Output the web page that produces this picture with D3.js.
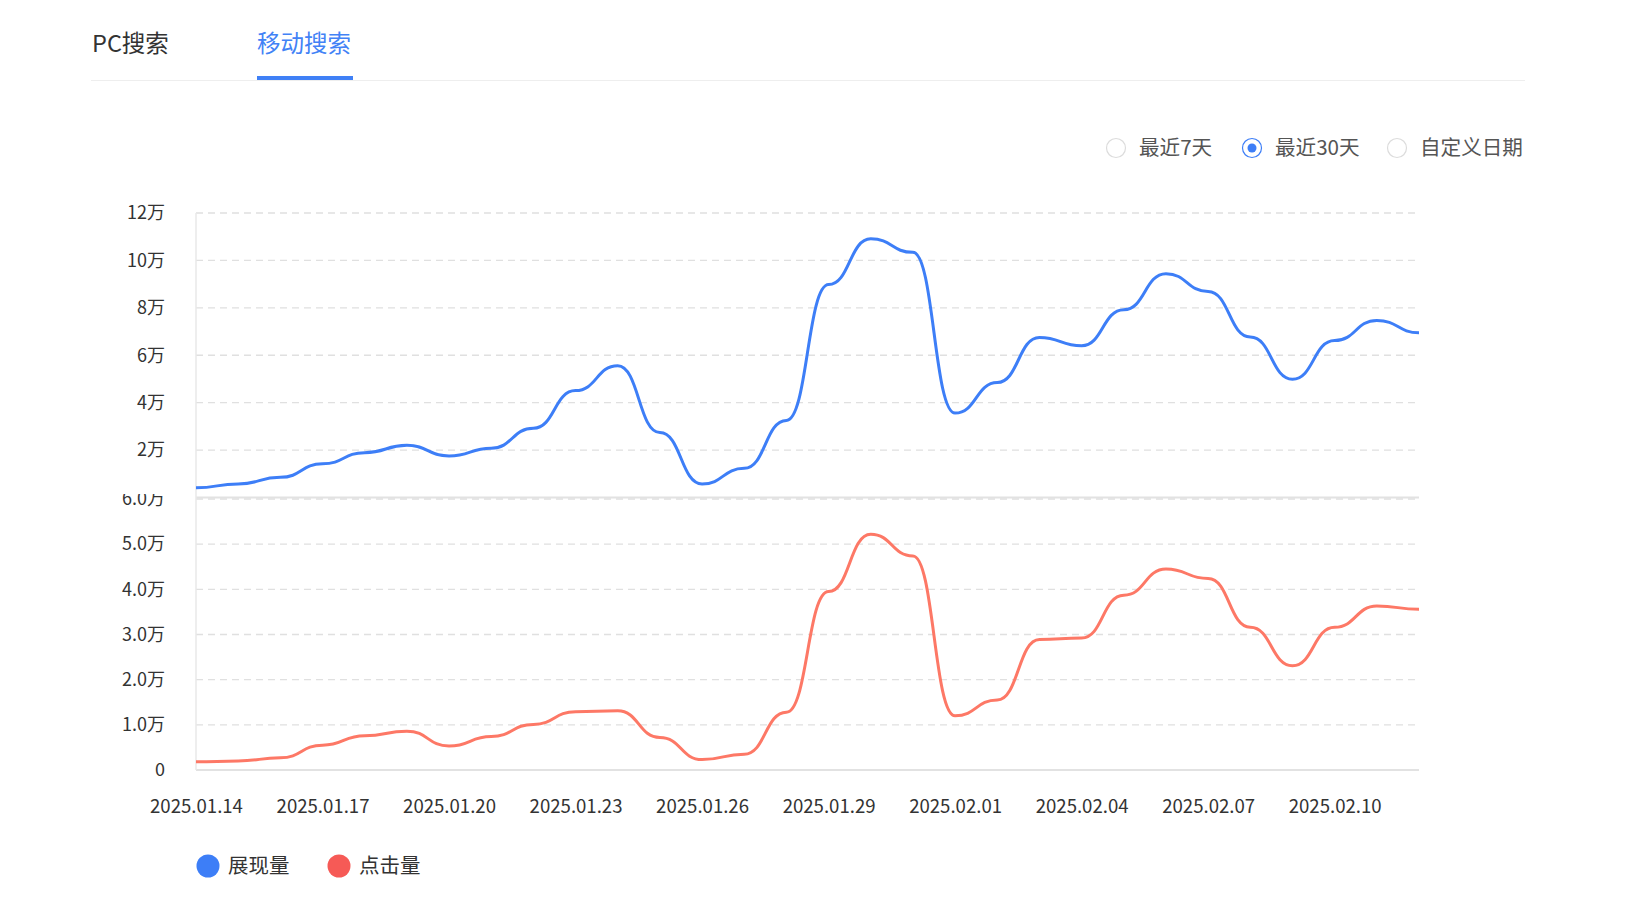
<!DOCTYPE html>
<html>
<head>
<meta charset="utf-8">
<script src="https://cdn.jsdelivr.net/npm/d3@7/dist/d3.min.js"></script>
<style>
  body { margin: 0; background: #fff; }
  svg { display: block; font-family: "Noto Sans CJK SC", "Noto Sans", sans-serif; }
</style>
</head>
<body>
<script>
// data
var dates = ['2025.01.14', '2025.01.15', '2025.01.16', '2025.01.17', '2025.01.18', '2025.01.19',
    '2025.01.20', '2025.01.21', '2025.01.22', '2025.01.23', '2025.01.24', '2025.01.25',
    '2025.01.26', '2025.01.27', '2025.01.28', '2025.01.29', '2025.01.30', '2025.01.31',
    '2025.02.01', '2025.02.02', '2025.02.03', '2025.02.04', '2025.02.05', '2025.02.06',
    '2025.02.07', '2025.02.08', '2025.02.09', '2025.02.10', '2025.02.11', '2025.02.12'];
var impressions = [4100, 5700, 8500, 14200, 18900, 22000, 17500, 20800, 29200, 45100,
    55600, 27400, 5700, 12300, 32500, 89800, 109100, 103400, 35600, 48500,
    67500, 64000, 79200, 94400, 86900, 67700, 49900, 66200, 74700, 69500];
var clicks = [1800, 2000, 2700, 5500, 7600, 8600, 5300, 7400, 10100, 12900,
    13100, 7200, 2300, 3500, 12800, 39500, 52200, 47400, 12000, 15500,
    28900, 29200, 38700, 44500, 42400, 31600, 23100, 31600, 36300, 35600];
var topTicks = [0, 20000, 40000, 60000, 80000, 100000, 120000];
var bottomTicks = [0, 10000, 20000, 30000, 40000, 50000, 60000];
var tabs = ['PC搜索', '移动搜索'];
var ranges = ['最近7天', '最近30天', '自定义日期'];
var seriesNames = ['展现量', '点击量'];

window.onload = function() {
    var w = 1638, h = 912;
    var blue = '#3d7ef7', red = '#fd7866';
    var left = 196, right = 1419;

    var svg = d3.select('body').append('svg')
        .attr('width', w)
        .attr('height', h);

    // tabs
    svg.append('line')
        .attr('x1', 91).attr('x2', 1525)
        .attr('y1', 80.5).attr('y2', 80.5)
        .style('stroke', '#eeeeee')
        .style('stroke-width', 1);
    var tabX = [92, 257];
    svg.selectAll('.tab')
        .data(tabs)
        .enter()
        .append('text')
        .attr('class', 'tab')
        .attr('x', function(d, i) { return tabX[i]; })
        .attr('y', 52)
        .style('font-size', '23.5px')
        .style('fill', function(d, i) { return i == 1 ? '#4282f6' : '#333'; })
        .text(function(d) { return d; });
    svg.append('rect')
        .attr('x', 257).attr('y', 76)
        .attr('width', 96).attr('height', 4)
        .style('fill', '#3f80f6');

    // radio buttons
    var radioX = [1116, 1252, 1397];
    var radios = svg.selectAll('.radio')
        .data(ranges)
        .enter()
        .append('g')
        .attr('class', 'radio')
        .attr('transform', function(d, i) { return 'translate(' + radioX[i] + ',148)'; });
    radios.append('circle')
        .attr('r', 9.5)
        .style('fill', '#fff')
        .style('stroke', function(d, i) { return i == 1 ? blue : '#dcdcdc'; })
        .style('stroke-width', 1.2);
    radios.filter(function(d, i) { return i == 1; })
        .append('circle')
        .attr('r', 4.5)
        .style('fill', blue);
    radios.append('text')
        .attr('x', 23)
        .attr('dy', '0.35em')
        .style('font-size', '20.6px')
        .style('fill', '#555')
        .text(function(d) { return d; });

    // scales
    var x = d3.scaleLinear()
        .domain([0, dates.length - 1])
        .range([left, right]);
    var yTop = d3.scaleLinear()
        .domain([0, 120000])
        .range([497.5, 213]);
    var yBottom = d3.scaleLinear()
        .domain([0, 60000])
        .range([770, 499]);

    // grid lines
    svg.append('g')
        .selectAll('line')
        .data(topTicks.slice(1))
        .enter()
        .append('line')
        .attr('x1', left).attr('x2', right)
        .attr('y1', function(d) { return yTop(d); })
        .attr('y2', function(d) { return yTop(d); })
        .style('stroke', '#e0e0e0')
        .style('stroke-width', 1.3)
        .style('stroke-dasharray', '7,5');
    svg.append('g')
        .selectAll('line')
        .data(bottomTicks.slice(1))
        .enter()
        .append('line')
        .attr('x1', left).attr('x2', right)
        .attr('y1', function(d) { return yBottom(d); })
        .attr('y2', function(d) { return yBottom(d); })
        .style('stroke', '#e0e0e0')
        .style('stroke-width', 1.3)
        .style('stroke-dasharray', '7,5');

    // axis lines
    [yTop(0), yBottom(0)].forEach(function(yy) {
        svg.append('line')
            .attr('x1', left).attr('x2', right)
            .attr('y1', yy).attr('y2', yy)
            .style('stroke', '#e2e2e2')
            .style('stroke-width', 2);
    });
    svg.append('line')
        .attr('x1', left).attr('x2', left)
        .attr('y1', 213).attr('y2', 770)
        .style('stroke', '#e8e8e8')
        .style('stroke-width', 1.5);

    // y axes
    var topAxis = d3.axisLeft(yTop)
        .tickValues(topTicks.slice(1))
        .tickSize(0)
        .tickPadding(31)
        .tickFormat(function(d) { return d / 10000 + '万'; });
    var gTop = svg.append('g')
        .attr('transform', 'translate(' + left + ',0)')
        .call(topAxis);

    // the 6.0万 label is cut off by the upper panel
    svg.append('clipPath')
        .attr('id', 'lowClip')
        .append('rect')
        .attr('x', 0).attr('y', 494)
        .attr('width', 400).attr('height', 400);
    var bottomAxis = d3.axisLeft(yBottom)
        .tickValues(bottomTicks)
        .tickSize(0)
        .tickPadding(31)
        .tickFormat(function(d) { return d == 0 ? '0' : (d / 10000).toFixed(1) + '万'; });
    var gBottom = svg.append('g')
        .attr('clip-path', 'url(#lowClip)')
        .append('g')
        .attr('transform', 'translate(' + left + ',0)')
        .call(bottomAxis);

    [gTop, gBottom].forEach(function(g) {
        g.select('.domain').remove();
        g.selectAll('text')
            .style('font-size', '18px')
            .style('fill', '#333')
            .style('font-family', '"Noto Sans CJK SC", sans-serif');
    });

    // x axis labels
    var xAxis = d3.axisBottom(x)
        .tickValues(d3.range(0, dates.length, 3))
        .tickSize(0)
        .tickPadding(30)
        .tickFormat(function(d) { return dates[d]; });
    var gx = svg.append('g')
        .attr('transform', 'translate(0,770)')
        .call(xAxis);
    gx.select('.domain').remove();
    gx.selectAll('text')
        .style('font-size', '18.6px')
        .style('fill', '#333')
        .style('font-family', '"Noto Sans CJK SC", sans-serif');

    // lines
    var lineTop = d3.line()
        .x(function(d, i) { return x(i); })
        .y(function(d) { return yTop(d); })
        .curve(d3.curveBumpX);
    var lineBottom = d3.line()
        .x(function(d, i) { return x(i); })
        .y(function(d) { return yBottom(d); })
        .curve(d3.curveBumpX);

    svg.append('path')
        .datum(impressions)
        .attr('d', lineTop)
        .style('fill', 'none')
        .style('stroke', blue)
        .style('stroke-width', 3);
    svg.append('path')
        .datum(clicks)
        .attr('d', lineBottom)
        .style('fill', 'none')
        .style('stroke', red)
        .style('stroke-width', 3);

    // legend
    var legendX = [208, 339];
    var legendColors = [blue, '#f65a56'];
    var legend = svg.selectAll('.legend')
        .data(seriesNames)
        .enter()
        .append('g')
        .attr('class', 'legend')
        .attr('transform', function(d, i) { return 'translate(' + legendX[i] + ',866)'; });
    legend.append('circle')
        .attr('r', 11.5)
        .style('fill', function(d, i) { return legendColors[i]; });
    legend.append('text')
        .attr('x', 20)
        .attr('dy', '0.35em')
        .style('font-size', '20.5px')
        .style('fill', '#333')
        .text(function(d) { return d; });
};
</script>
</body>
</html>
